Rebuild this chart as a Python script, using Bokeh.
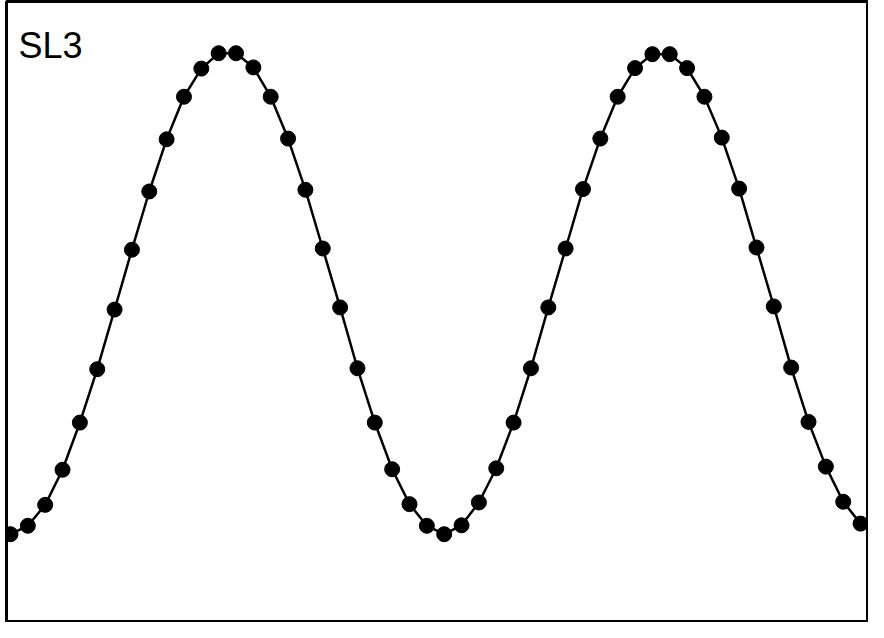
from bokeh.plotting import figure
from bokeh.models import Range1d, Label, ColumnDataSource
from bokeh.embed import file_html
from bokeh.resources import INLINE

# sample index along the trace
sample = list(range(51))
# normalised SL3 signal (peak = 1, trough = -1)
signal = [
    -1.000, -0.965, -0.878, -0.732, -0.536, -0.314, -0.066, 0.183, 0.425, 0.642,
    0.819, 0.936, 1.000, 1.000, 0.941, 0.819, 0.645, 0.432, 0.188, -0.057,
    -0.310, -0.536, -0.730, -0.875, -0.965, -1.000, -0.963, -0.868, -0.726, -0.536,
    -0.310, -0.057, 0.188, 0.435, 0.645, 0.819, 0.938, 0.996, 0.996, 0.938,
    0.819, 0.649, 0.437, 0.192, -0.053, -0.307, -0.533, -0.719, -0.865, -0.956,
    -0.993,
]
panel_label = "SL3"

src = ColumnDataSource(data=dict(x=sample, y=signal))

p = figure(
    width=868, height=622,
    output_backend="svg", toolbar_location=None,
    x_axis_location=None, y_axis_location=None,
    x_range=Range1d(-0.23, 49.4), y_range=Range1d(-1.363, 1.215),
    min_border_left=6, min_border_right=1, min_border_top=1, min_border_bottom=1,
)
p.grid.visible = False
p.outline_line_color = "black"
p.outline_line_width = 3
p.background_fill_color = "white"
p.border_fill_color = "white"

p.line("x", "y", source=src, line_color="black", line_width=2.5)
p.scatter("x", "y", source=src, size=15, fill_color="black", line_color="black")

lab = Label(
    x=12, y=576, x_units="screen", y_units="screen",
    text=panel_label, text_font="Liberation Sans", text_font_size="36px",
    text_color="black", text_baseline="alphabetic", text_align="left",
)
p.add_layout(lab)

open("out.html", "w").write(file_html(p, INLINE))
